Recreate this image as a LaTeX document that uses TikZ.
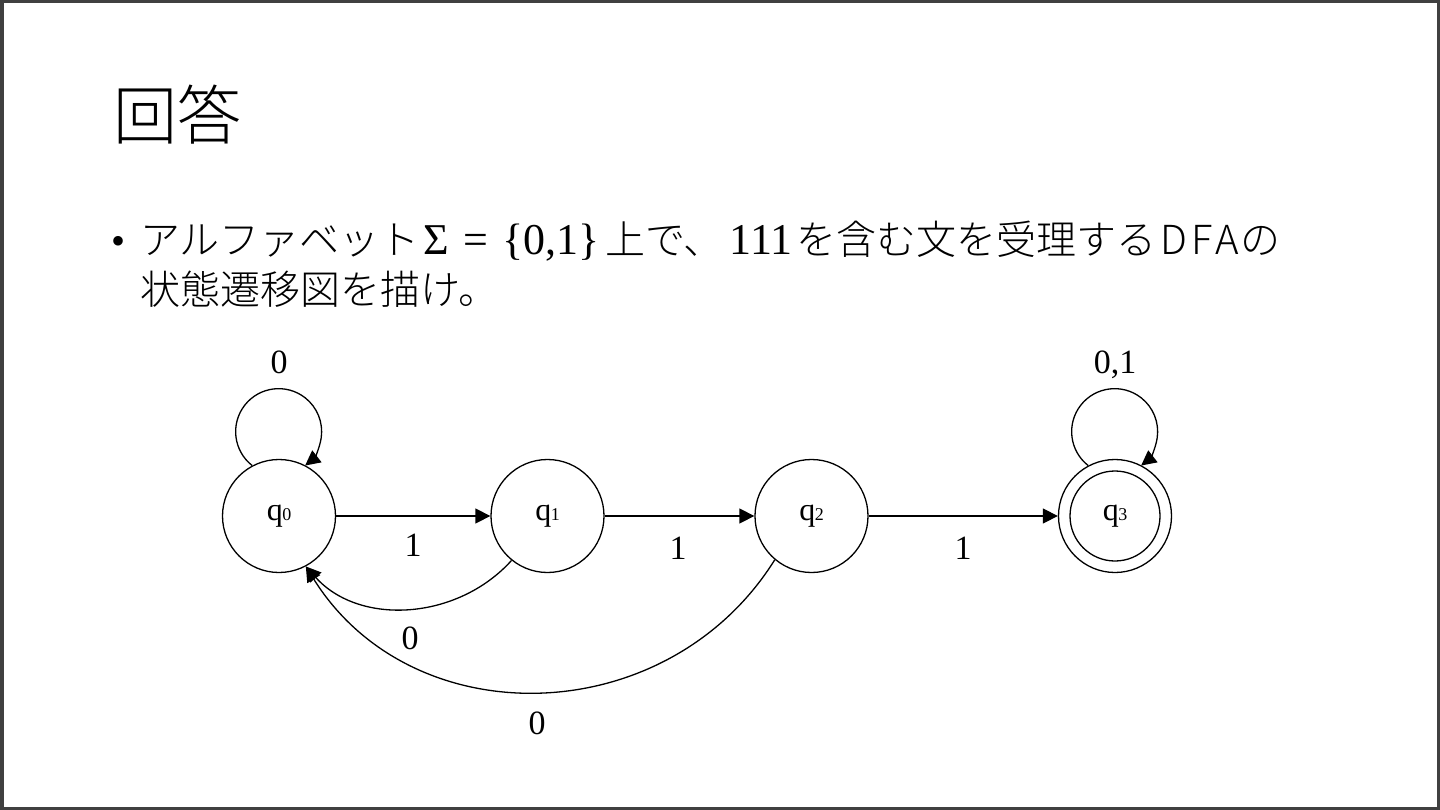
\documentclass[tikz,border=0pt]{standalone}
\usepackage{fontspec}
\setmainfont{Liberation Serif}
\IfFontExistsTF{Noto Sans CJK JP Light}
  {\newfontfamily\jpfont{Noto Sans CJK JP Light}}
  {\newfontfamily\jpfont{Noto Sans CJK JP}}
\newfontfamily\mathlike{Liberation Serif}
\usetikzlibrary{arrows.meta}
\definecolor{framegray}{HTML}{404040}
\tikzset{
  state/.style={circle, draw, line width=1.3pt, minimum size=113pt, inner sep=0pt,
    font=\fontsize{32}{32}\selectfont},
  edge/.style={line width=1.3pt, -{Triangle[length=15pt,width=15pt]}},
  elabel/.style={font=\fontsize{34}{34}\selectfont, inner sep=0pt},
  jptext/.style={font=\jpfont\fontsize{40}{48}\selectfont, anchor=base west, inner sep=0pt},
}
\newcommand{\qsub}[1]{q\kern-0.5pt{\fontsize{18}{18}\selectfont #1}}
\newcommand{\mtxt}[1]{{\mathlike\fontsize{44}{48}\selectfont #1}}
\begin{document}
\begin{tikzpicture}[x=1pt,y=-1pt]
\useasboundingbox (0,0) rectangle (1440,810);
\fill[white] (0,0) rectangle (1440,810);
\draw[framegray, line width=3.5pt] (1.75,1.75) rectangle (1438.25,808.25);

% title
\node[jptext, font=\jpfont\fontsize{64}{70}\selectfont] (title) at (113,140) {回答};

% bullet text
\node[font=\fontsize{40}{48}\selectfont, anchor=base, inner sep=0pt] (bullet) at (119,255) {•};
\node[jptext] (line1) at (140,255) {アルファベット\kern4pt\mtxt{Σ\kern14pt=\kern14pt\{0,1\}}\kern6pt上で、\kern6pt\mtxt{111}\kern4pt を含む文を受理する\kern4pt{\addfontfeature{LetterSpace=10}DFA}\kern2pt の};
\node[jptext] (line2) at (140,305) {状態遷移図を描け。};

% states
\node[state] (q0) at (279,516) {\qsub{0}};
\node[state] (q1) at (547.5,516) {\qsub{1}};
\node[state] (q2) at (811.5,516) {\qsub{2}};
\node[state] (q3) at (1115,516) {};
\draw[line width=1.3pt] (q3.center) circle[radius=45pt];
\node[font=\fontsize{32}{32}\selectfont] (q3l) at (q3.center) {\qsub{3}};

% transitions
\draw[edge] (q0.east) -- (q1.west);
\draw[edge] (q1.east) -- (q2.west);
\draw[edge] (q2.east) -- (q3.west);
\draw[edge] (q0.118) arc[start angle=232, end angle=-52, radius=43pt];
\draw[edge] (q3.118) arc[start angle=232, end angle=-52, radius=43pt];
\draw[edge] (q1.231) to[out=228, in=-48] (q0.-62);
\draw[edge] (q2.230) to[out=238, in=-58, looseness=1.1] (q0.-62);

% labels
\node[elabel] (l01) at (413,545) {1};
\node[elabel] (l12) at (678,548) {1};
\node[elabel] (l23) at (963,548) {1};
\node[elabel] (l00) at (279,362) {0};
\node[elabel] (l33) at (1115,365) {0,1};
\node[elabel] (l10) at (410,638) {0};
\node[elabel] (l20) at (537,723) {0};
\end{tikzpicture}
\end{document}
